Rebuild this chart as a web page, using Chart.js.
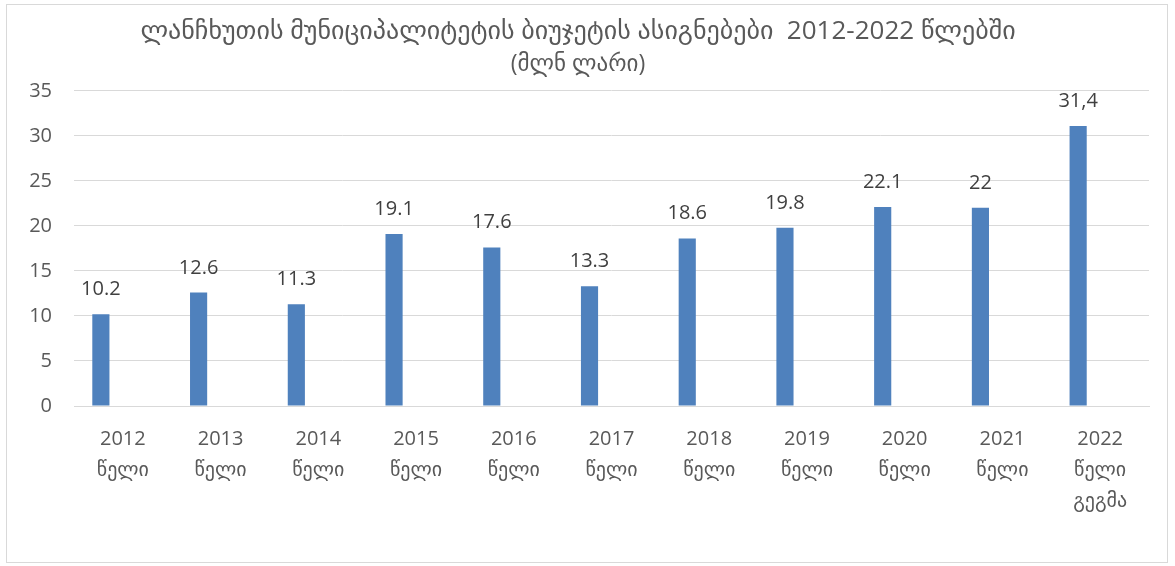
<!DOCTYPE html>
<html>
<head>
<meta charset="utf-8">
<script src="https://cdn.jsdelivr.net/npm/chart.js@4"></script>
<style>
  body { margin: 0; background: #fff; }
  #box { position: absolute; left: 6px; top: 4px; width: 1162px; height: 559px;
         border: 1px solid #d9d9d9; box-sizing: border-box; }
  canvas { display: block; }
</style>
</head>
<body>
<div id="box"><canvas id="budgetChart" width="1160" height="557"></canvas></div>
<script>
const years = ['2012', '2013', '2014', '2015', '2016', '2017', '2018', '2019', '2020', '2021', '2022'];
const yearWord = 'წელი';
const planWord = 'გეგმა';
const budget = [10.2, 12.6, 11.3, 19.1, 17.6, 13.3, 18.6, 19.8, 22.1, 22, 31.1];
const budgetLabels = ['10.2', '12.6', '11.3', '19.1', '17.6', '13.3', '18.6', '19.8', '22.1', '22', '31,4'];
const yTicks = [0, 5, 10, 15, 20, 25, 30, 35];

const FONT = "'Open Sans', 'DejaVu Sans', sans-serif";

// last year is the plan, so it gets a third line
const categories = years.map((y, i) => i === years.length - 1 ? [y, yearWord, planWord] : [y, yearWord]);

// draws the value text above each bar
const valueLabels = {
  id: 'valueLabels',
  afterDatasetsDraw(chart) {
    const ctx = chart.ctx;
    const meta = chart.getDatasetMeta(0);
    ctx.save();
    ctx.font = '20px ' + FONT;
    ctx.fillStyle = '#404040';
    ctx.textAlign = 'center';
    ctx.textBaseline = 'alphabetic';
    meta.data.forEach((bar, i) => {
      ctx.fillText(budgetLabels[i], bar.x, bar.y - 19);
    });
    ctx.restore();
  }
};

new Chart(document.getElementById('budgetChart'), {
  type: 'bar',
  data: {
    labels: categories,
    datasets: [
      {
        data: budget,
        backgroundColor: '#4f81bd',
        categoryPercentage: 0.9,
        barPercentage: 0.39
      },
      {
        // empty second series, keeps the bars left of centre like the original
        data: budget.map(() => null),
        backgroundColor: '#c0504d',
        categoryPercentage: 0.9,
        barPercentage: 0.39
      }
    ]
  },
  options: {
    responsive: false,
    animation: false,
    layout: { padding: { left: 0, right: 18, top: 0, bottom: 0 } },
    plugins: {
      legend: { display: false },
      tooltip: { enabled: false },
      title: {
        display: true,
        text: 'ლანჩხუთის მუნიციპალიტეტის ბიუჯეტის ასიგნებები  2012-2022 წლებში',
        color: '#595959',
        font: { family: FONT, size: 26, weight: 'normal', lineHeight: 1.2 },
        padding: { top: 11, bottom: 3 }
      },
      subtitle: {
        display: true,
        text: '(მლნ ლარი)',
        color: '#595959',
        font: { family: FONT, size: 23, weight: 'normal', lineHeight: 1.2 },
        padding: { top: 0, bottom: 13 }
      }
    },
    scales: {
      x: {
        grid: { display: false },
        border: { color: '#d9d9d9', width: 1 },
        ticks: {
          color: '#595959',
          font: { family: FONT, size: 20, lineHeight: 1.55 },
          padding: 10,
          maxRotation: 0,
          autoSkip: false
        },
        afterFit(scale) { scale.height = 156; }
      },
      y: {
        min: 0,
        max: 35,
        afterBuildTicks(scale) { scale.ticks = yTicks.map(v => ({ value: v })); },
        grid: { color: '#d9d9d9', lineWidth: 1, drawTicks: false },
        border: { display: false },
        ticks: {
          color: '#595959',
          font: { family: FONT, size: 20 },
          padding: 22
        },
        afterFit(scale) { scale.width = 67; }
      }
    }
  },
  plugins: [valueLabels]
});
</script>
</body>
</html>
